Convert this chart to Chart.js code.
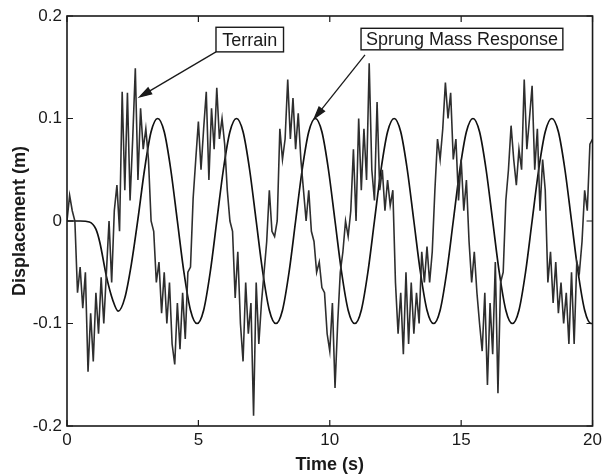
<!DOCTYPE html>
<html lang="en">
<head>
<meta charset="UTF-8">
<title>Terrain and Sprung Mass Response</title>
<script src="https://cdn.jsdelivr.net/npm/chart.js"></script>
<style>
  html, body { margin: 0; padding: 0; background: #fff; }
</style>
</head>
<body>
<canvas id="dispChart" width="606" height="474"></canvas>
<script>
// terrain profile, every 0.1 s
const terrainTime = [
  0, 0.1, 0.2, 0.3, 0.4, 0.5, 0.6, 0.7, 0.8, 0.9,
  1, 1.1, 1.2, 1.3, 1.4, 1.5, 1.6, 1.7, 1.8, 1.9,
  2, 2.1, 2.2, 2.3, 2.4, 2.5, 2.6, 2.7, 2.8, 2.9,
  3, 3.1, 3.2, 3.3, 3.4, 3.5, 3.6, 3.7, 3.8, 3.9,
  4, 4.1, 4.2, 4.3, 4.4, 4.5, 4.6, 4.7, 4.8, 4.9,
  5, 5.1, 5.2, 5.3, 5.4, 5.5, 5.6, 5.7, 5.8, 5.9,
  6, 6.1, 6.2, 6.3, 6.4, 6.5, 6.6, 6.7, 6.8, 6.9,
  7, 7.1, 7.2, 7.3, 7.4, 7.5, 7.6, 7.7, 7.8, 7.9,
  8, 8.1, 8.2, 8.3, 8.4, 8.5, 8.6, 8.7, 8.8, 8.9,
  9, 9.1, 9.2, 9.3, 9.4, 9.5, 9.6, 9.7, 9.8, 9.9,
  10, 10.1, 10.2, 10.3, 10.4, 10.5, 10.6, 10.7, 10.8, 10.9,
  11, 11.1, 11.2, 11.3, 11.4, 11.5, 11.6, 11.7, 11.8, 11.9,
  12, 12.1, 12.2, 12.3, 12.4, 12.5, 12.6, 12.7, 12.8, 12.9,
  13, 13.1, 13.2, 13.3, 13.4, 13.5, 13.6, 13.7, 13.8, 13.9,
  14, 14.1, 14.2, 14.3, 14.4, 14.5, 14.6, 14.7, 14.8, 14.9,
  15, 15.1, 15.2, 15.3, 15.4, 15.5, 15.6, 15.7, 15.8, 15.9,
  16, 16.1, 16.2, 16.3, 16.4, 16.5, 16.6, 16.7, 16.8, 16.9,
  17, 17.1, 17.2, 17.3, 17.4, 17.5, 17.6, 17.7, 17.8, 17.9,
  18, 18.1, 18.2, 18.3, 18.4, 18.5, 18.6, 18.7, 18.8, 18.9,
  19, 19.1, 19.2, 19.3, 19.4, 19.5, 19.6, 19.7, 19.8, 19.9,
  20
];
const terrainDisp = [
  0, 0.025, 0.01, 0, -0.07, -0.045, -0.085, -0.05, -0.147, -0.09,
  -0.137, -0.07, -0.11, -0.055, -0.1, -0.05, 0, -0.06, 0.01, 0.035,
  -0.01, 0.126, 0.03, 0.125, 0.02, 0.08, 0.149, 0.04, 0.11, 0.07,
  0.09, 0.06, 0, -0.01, -0.06, -0.04, -0.09, -0.05, -0.1, -0.06,
  -0.12, -0.14, -0.08, -0.125, -0.07, -0.115, -0.05, -0.045, 0.022, 0.06,
  0.097, 0.05, 0.09, 0.126, 0.04, 0.11, 0.07, 0.13, 0.08, 0.1,
  0.075, 0.03, 0, -0.01, -0.075, -0.03, -0.1, -0.137, -0.06, -0.11,
  -0.08, -0.19, -0.06, -0.12, -0.08, -0.05, -0.02, 0.03, -0.01, -0.015,
  0, 0.09, 0.06, 0.08, 0.138, 0.08, 0.12, 0.07, 0.105, 0.06,
  0.03, 0, 0.03, -0.01, -0.02, -0.05, -0.04, -0.065, -0.07, -0.11,
  -0.127, -0.08, -0.163, -0.1, -0.05, -0.03, 0, -0.015, 0.01, 0.07,
  0, 0.1, 0.03, 0.09, 0.04, 0.154, 0.05, 0.02, 0.116, 0.03,
  0.05, 0.01, 0.04, 0.015, 0.03, -0.06, -0.11, -0.07, -0.13, -0.05,
  -0.12, -0.06, -0.11, -0.07, -0.1, -0.03, -0.06, -0.025, -0.06, -0.03,
  0.03, 0.08, 0.06, 0.09, 0.135, 0.1, 0.125, 0.06, 0.08, 0.02,
  0.06, 0.01, 0.04, -0.02, -0.06, -0.03, -0.07, -0.1, -0.127, -0.07,
  -0.16, -0.08, -0.13, -0.04, -0.168, -0.06, -0.05, 0.02, 0.05, 0.093,
  0.06, 0.035, 0.07, 0.05, 0.138, 0.07, 0.1, 0.132, 0.05, 0.09,
  0.01, 0.06, 0.03, -0.06, -0.03, -0.08, -0.04, -0.09, -0.06, -0.1,
  -0.07, -0.12, -0.05, -0.12, -0.04, -0.05, -0.02, 0.03, 0.01, 0.075,
  0.08
];

// sprung mass response
const responseTime = [
  0, 0.5, 0.85, 1.1, 1.25, 1.5, 1.74,
  1.95, 2.2, 2.45, 2.7, 2.95, 3.2, 3.45, 3.7, 3.95, 4.2, 4.45, 4.7,
  4.95, 5.2, 5.45, 5.7, 5.95, 6.2, 6.45, 6.7, 6.95, 7.2, 7.45, 7.7,
  7.95, 8.2, 8.45, 8.7, 8.95, 9.2, 9.45, 9.7, 9.95, 10.2, 10.45, 10.7,
  10.95, 11.2, 11.45, 11.7, 11.95, 12.2, 12.45, 12.7, 12.95, 13.2, 13.45, 13.7,
  13.95, 14.2, 14.45, 14.7, 14.95, 15.2, 15.45, 15.7, 15.95, 16.2, 16.45, 16.7,
  16.95, 17.2, 17.45, 17.7, 17.95, 18.2, 18.45, 18.7, 18.95, 19.2, 19.45, 19.7,
  19.95, 20
];
const responseDisp = [
  0, 0, -0.001, -0.008, -0.021, -0.054, -0.077,
  -0.088, -0.075, -0.042, 0.002, 0.05, 0.087, 0.1, 0.087, 0.05, 0, -0.05, -0.087,
  -0.1, -0.087, -0.05, 0, 0.05, 0.087, 0.1, 0.087, 0.05, 0, -0.05, -0.087,
  -0.1, -0.087, -0.05, 0, 0.05, 0.087, 0.1, 0.087, 0.05, 0, -0.05, -0.087,
  -0.1, -0.087, -0.05, 0, 0.05, 0.087, 0.1, 0.087, 0.05, 0, -0.05, -0.087,
  -0.1, -0.087, -0.05, 0, 0.05, 0.087, 0.1, 0.087, 0.05, 0, -0.05, -0.087,
  -0.1, -0.087, -0.05, 0, 0.05, 0.087, 0.1, 0.087, 0.05, 0, -0.05, -0.087,
  -0.1, -0.1
];

const xTicks = [0, 5, 10, 15, 20];
const yTicks = [-0.2, -0.1, 0, 0.1, 0.2];

const ink = '#1a1a1a';
Chart.defaults.font.family = '"Liberation Sans", Arial, sans-serif';
Chart.defaults.color = ink;

// MATLAB style box with inward tick marks
const boxAxes = {
  id: 'boxAxes',
  afterDraw(chart) {
    const { ctx, chartArea: a, scales: { x, y } } = chart;
    ctx.save();
    ctx.strokeStyle = ink;
    ctx.lineWidth = 1.6;
    ctx.strokeRect(a.left, a.top, a.right - a.left, a.bottom - a.top);
    ctx.lineWidth = 1.2;
    ctx.beginPath();
    xTicks.forEach(v => {
      const px = x.getPixelForValue(v);
      ctx.moveTo(px, a.bottom); ctx.lineTo(px, a.bottom - 6);
      ctx.moveTo(px, a.top); ctx.lineTo(px, a.top + 6);
    });
    yTicks.forEach(v => {
      const py = y.getPixelForValue(v);
      ctx.moveTo(a.left, py); ctx.lineTo(a.left + 6, py);
      ctx.moveTo(a.right, py); ctx.lineTo(a.right - 6, py);
    });
    ctx.stroke();
    ctx.restore();
  }
};

// boxed labels with arrows, placed in data units
const callouts = {
  id: 'callouts',
  afterDatasetsDraw(chart, args, opts) {
    const { ctx, scales: { x, y } } = chart;
    ctx.save();
    opts.items.forEach(c => {
      const l = x.getPixelForValue(c.box[0]), t = y.getPixelForValue(c.box[1]);
      const r = x.getPixelForValue(c.box[2]), b = y.getPixelForValue(c.box[3]);
      ctx.fillStyle = '#fff';
      ctx.fillRect(l, t, r - l, b - t);
      ctx.strokeStyle = ink;
      ctx.lineWidth = 1.4;
      ctx.strokeRect(l, t, r - l, b - t);
      ctx.fillStyle = ink;
      ctx.font = '18px "Liberation Sans", Arial, sans-serif';
      ctx.textAlign = 'center';
      ctx.textBaseline = 'middle';
      ctx.fillText(c.text, (l + r) / 2, (t + b) / 2 + 1);

      const x0 = x.getPixelForValue(c.from[0]), y0 = y.getPixelForValue(c.from[1]);
      const x1 = x.getPixelForValue(c.to[0]), y1 = y.getPixelForValue(c.to[1]);
      const ang = Math.atan2(y1 - y0, x1 - x0);
      const len = 12, half = 3.5;
      const bx = x1 - len * Math.cos(ang), by = y1 - len * Math.sin(ang);
      ctx.lineWidth = 1.3;
      ctx.beginPath();
      ctx.moveTo(x0, y0); ctx.lineTo(bx, by);
      ctx.stroke();
      ctx.beginPath();
      ctx.moveTo(x1, y1);
      ctx.lineTo(bx + half * Math.sin(ang), by - half * Math.cos(ang));
      ctx.lineTo(bx - half * Math.sin(ang), by + half * Math.cos(ang));
      ctx.closePath();
      ctx.fill();
      ctx.stroke();
    });
    ctx.restore();
  }
};

const ctx = document.getElementById('dispChart').getContext('2d');
new Chart(ctx, {
  type: 'line',
  data: {
    datasets: [{
      label: 'Terrain',
      data: terrainTime.map((t, i) => ({ x: t, y: terrainDisp[i] })),
      borderColor: '#2e2e2e',
      borderWidth: 1.6,
      pointRadius: 0,
      tension: 0
    }, {
      label: 'Sprung Mass Response',
      data: responseTime.map((t, i) => ({ x: t, y: responseDisp[i] })),
      borderColor: '#111',
      borderWidth: 1.7,
      pointRadius: 0,
      cubicInterpolationMode: 'monotone'
    }]
  },
  options: {
    responsive: false,
    animation: false,
    layout: { padding: { left: 0, right: 10, top: 16, bottom: 0 } },
    plugins: {
      legend: { display: false },
      tooltip: { enabled: false },
      callouts: {
        items: [
          { text: 'Terrain', box: [5.67, 0.189, 8.24, 0.165], from: [5.67, 0.165], to: [2.76, 0.121] },
          { text: 'Sprung Mass Response', box: [11.19, 0.188, 18.87, 0.167], from: [11.34, 0.162], to: [9.41, 0.1] }
        ]
      }
    },
    scales: {
      x: {
        type: 'linear',
        min: 0,
        max: 20,
        afterBuildTicks: s => { s.ticks = xTicks.map(v => ({ value: v })); },
        afterFit: s => { s.height = 48; },
        grid: { display: false, drawTicks: false },
        border: { display: false },
        ticks: { padding: 4, font: { size: 17 }, maxRotation: 0 },
        title: { display: true, text: 'Time (s)', font: { size: 18, weight: 'bold', lineHeight: 1 }, padding: 0 }
      },
      y: {
        min: -0.2,
        max: 0.2,
        afterBuildTicks: s => { s.ticks = yTicks.map(v => ({ value: v })); },
        afterFit: s => { s.width = 67; },
        grid: { display: false, drawTicks: false },
        border: { display: false },
        ticks: { padding: 5, font: { size: 17 }, callback: v => String(Math.round(v * 10) / 10) },
        title: { display: true, text: 'Displacement (m)', font: { size: 18, weight: 'bold', lineHeight: 1 }, padding: { top: 11, bottom: 0 } }
      }
    }
  },
  plugins: [boxAxes, callouts]
});
</script>
</body>
</html>
